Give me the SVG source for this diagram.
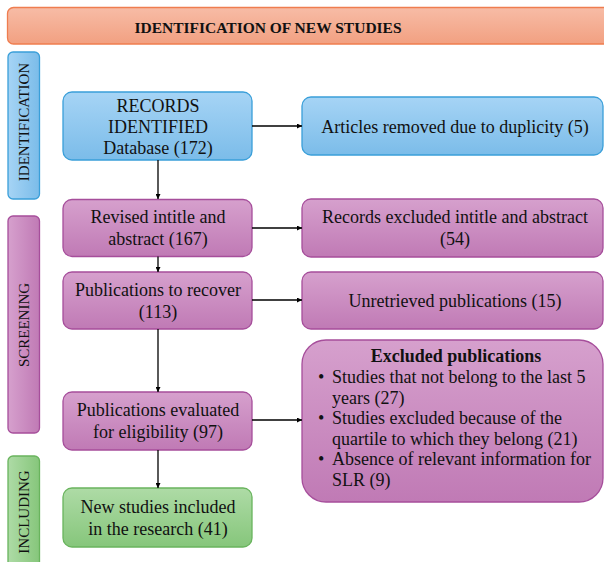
<svg xmlns="http://www.w3.org/2000/svg" width="604" height="562" viewBox="0 0 604 562">
<defs>
<linearGradient id="gHead" x1="0" y1="0" x2="0" y2="1"><stop offset="0" stop-color="#f7bca6"/><stop offset="1" stop-color="#f2a081"/></linearGradient>
<linearGradient id="gBlue" x1="0" y1="0" x2="0" y2="1"><stop offset="0" stop-color="#a6d4f5"/><stop offset="1" stop-color="#7bbce9"/></linearGradient>
<linearGradient id="gPurp" x1="0" y1="0" x2="0" y2="1"><stop offset="0" stop-color="#d6a0cd"/><stop offset="1" stop-color="#c07ab5"/></linearGradient>
<linearGradient id="gGreen" x1="0" y1="0" x2="0" y2="1"><stop offset="0" stop-color="#aedba6"/><stop offset="1" stop-color="#86c67b"/></linearGradient>
<linearGradient id="hBlue" x1="0" y1="0" x2="1" y2="0"><stop offset="0" stop-color="#a6d4f5"/><stop offset="1" stop-color="#7bbce9"/></linearGradient>
<linearGradient id="hPurp" x1="0" y1="0" x2="1" y2="0"><stop offset="0" stop-color="#d6a0cd"/><stop offset="1" stop-color="#c07ab5"/></linearGradient>
<linearGradient id="hGreen" x1="0" y1="0" x2="1" y2="0"><stop offset="0" stop-color="#aedba6"/><stop offset="1" stop-color="#86c67b"/></linearGradient>
<marker id="arr" viewBox="0 0 10 10" refX="10" refY="5" markerWidth="5" markerHeight="5" orient="auto" markerUnits="userSpaceOnUse"><path d="M0,0 L10,5 L0,10 z" fill="#000"/></marker>
</defs>
<style>
text{font-family:"Liberation Serif","Times New Roman",serif;fill:#111;}
.t{font-size:18px;text-anchor:middle;}
.l{font-size:18px;}
.side{font-size:15px;text-anchor:middle;}
.hd{font-size:15.5px;font-weight:bold;text-anchor:middle;}
.blue{fill:url(#gBlue);stroke:#3a9fd9;stroke-width:1.3;}
.purp{fill:url(#gPurp);stroke:#a64e9b;stroke-width:1.3;}
.green{fill:url(#gGreen);stroke:#69b45d;stroke-width:1.3;}
.sblue{fill:url(#hBlue);stroke:#3a9fd9;stroke-width:1.3;}
.spurp{fill:url(#hPurp);stroke:#a64e9b;stroke-width:1.3;}
.sgreen{fill:url(#hGreen);stroke:#69b45d;stroke-width:1.3;}
.c{stroke:#000;stroke-width:1.3;fill:none;marker-end:url(#arr);}
</style>
<g id="header">
<rect x="7.5" y="7.5" width="610" height="36.5" rx="6" fill="url(#gHead)" stroke="#ef7d4f" stroke-width="1.3"/>
<text class="hd" x="268" y="32.5">IDENTIFICATION OF NEW STUDIES</text>
</g>
<g id="bar-identification">
<rect class="sblue" x="8" y="52" width="31.5" height="147" rx="5"/>
<text class="side" transform="translate(29,122) rotate(-90)">IDENTIFICATION</text>
</g>
<g id="bar-screening">
<rect class="spurp" x="8" y="216" width="31.5" height="217" rx="5"/>
<text class="side" transform="translate(29,325) rotate(-90)">SCREENING</text>
</g>
<g id="bar-including">
<rect class="sgreen" x="8" y="456" width="31.5" height="120" rx="5"/>
<text class="side" transform="translate(29,512) rotate(-90)">INCLUDING</text>
</g>
<g id="records">
<rect class="blue" x="63" y="92" width="189" height="68" rx="9"/>
<text class="t" x="158" y="112">RECORDS</text>
<text class="t" x="158" y="133">IDENTIFIED</text>
<text class="t" x="158" y="154">Database (172)</text>
</g>
<g id="duplicity">
<rect class="blue" x="302" y="97" width="301" height="58" rx="9"/>
<text class="t" x="455" y="133">Articles removed due to duplicity (5)</text>
</g>
<g id="revised">
<rect class="purp" x="63" y="199.5" width="189" height="57" rx="9"/>
<text class="t" x="158" y="223">Revised intitle and</text>
<text class="t" x="158" y="245">abstract (167)</text>
</g>
<g id="excluded-title">
<rect class="purp" x="302" y="199" width="301" height="58" rx="9"/>
<text class="t" x="455" y="223">Records excluded intitle and abstract</text>
<text class="t" x="455" y="245">(54)</text>
</g>
<g id="recover">
<rect class="purp" x="63" y="272" width="189" height="57" rx="9"/>
<text class="t" x="158" y="296">Publications to recover</text>
<text class="t" x="158" y="318">(113)</text>
</g>
<g id="unretrieved">
<rect class="purp" x="302" y="272" width="301" height="57" rx="9"/>
<text class="t" x="455" y="307">Unretrieved publications (15)</text>
</g>
<g id="evaluated">
<rect class="purp" x="63" y="392" width="189" height="58" rx="9"/>
<text class="t" x="158" y="416">Publications evaluated</text>
<text class="t" x="158" y="438">for eligibility (97)</text>
</g>
<g id="excluded-pubs">
<rect class="purp" x="302" y="340" width="301" height="162" rx="24"/>
<text class="t" x="456" y="362" font-weight="bold">Excluded publications</text>
<text class="l" x="318" y="383">•</text>
<text class="l" x="332" y="383">Studies that not belong to the last 5</text>
<text class="l" x="332" y="403.5">years (27)</text>
<text class="l" x="318" y="424">•</text>
<text class="l" x="332" y="424">Studies excluded because of the</text>
<text class="l" x="332" y="444.5">quartile to which they belong (21)</text>
<text class="l" x="318" y="465">•</text>
<text class="l" x="332" y="465">Absence of relevant information for</text>
<text class="l" x="332" y="485.5">SLR (9)</text>
</g>
<g id="included">
<rect class="green" x="63" y="488" width="189" height="59" rx="9"/>
<text class="t" x="158" y="513">New studies included</text>
<text class="t" x="158" y="535">in the research (41)</text>
</g>
<g id="connectors">
<line class="c" x1="252" y1="126" x2="302" y2="126"/>
<line class="c" x1="158" y1="160" x2="158" y2="199"/>
<line class="c" x1="252" y1="228" x2="302" y2="228"/>
<line class="c" x1="158" y1="256.5" x2="158" y2="272"/>
<line class="c" x1="252" y1="300" x2="302" y2="300"/>
<line class="c" x1="158" y1="329" x2="158" y2="392"/>
<line class="c" x1="252" y1="420" x2="302" y2="420"/>
<line class="c" x1="158" y1="450" x2="158" y2="488"/>
</g>
</svg>
